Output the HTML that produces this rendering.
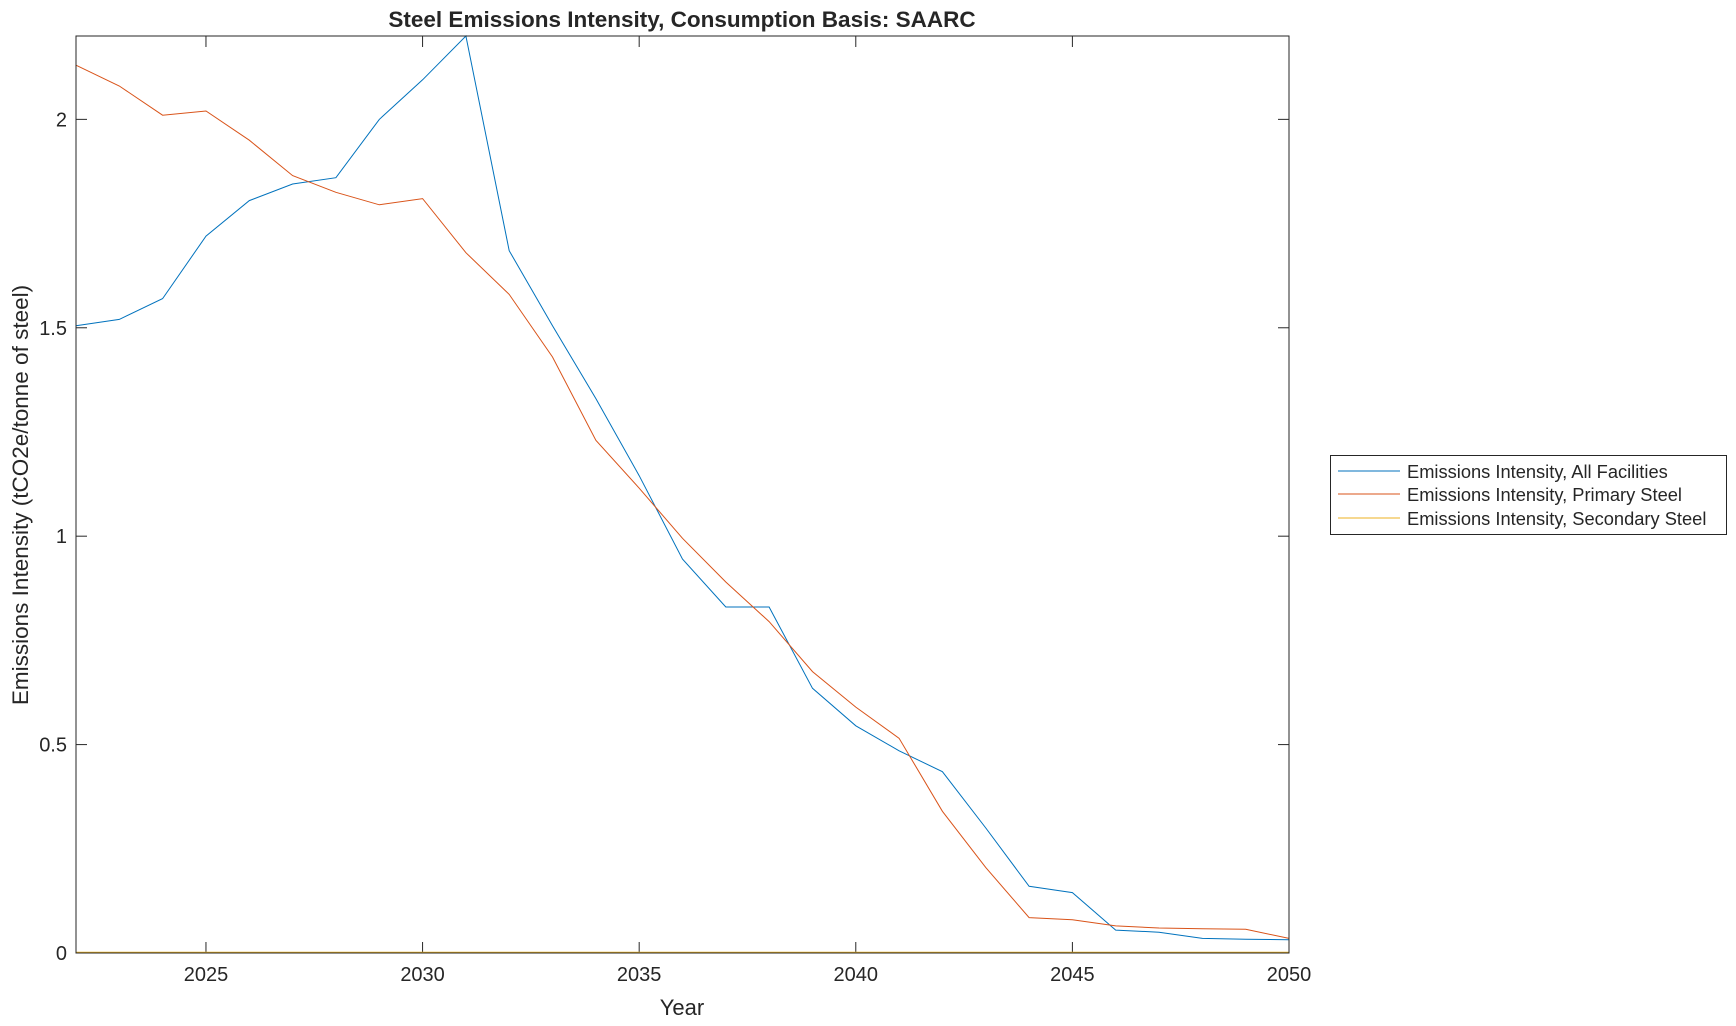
<!DOCTYPE html>
<html><head><style>
body{margin:0;background:#fff;}
svg text{font-family:"Liberation Sans",sans-serif;fill:#262626;}
</style></head><body>
<svg id="s" width="1736" height="1021" xmlns="http://www.w3.org/2000/svg">
<rect x="0" y="0" width="1736" height="1021" fill="#fff"/>
<text x="682" y="27" font-size="22.5" font-weight="bold" text-anchor="middle" fill="#000">Steel Emissions Intensity, Consumption Basis: SAARC</text>
<g id="g"></g>
<rect x="76" y="36" width="1213" height="917" fill="none" stroke="#262626" stroke-width="1"/>
<text x="682" y="1015" font-size="22" text-anchor="middle">Year</text>
<text transform="translate(28,495) rotate(-90)" font-size="22.5" text-anchor="middle">Emissions Intensity (tCO2e/tonne of steel)</text>
<rect x="1330.5" y="455.5" width="396" height="79" fill="#fff" stroke="#262626" stroke-width="1"/>
<line x1="1338" y1="471" x2="1400" y2="471" stroke="#0072BD"/>
<line x1="1338" y1="494" x2="1400" y2="494" stroke="#D95319"/>
<line x1="1338" y1="518" x2="1400" y2="518" stroke="#EDB120"/>
<text x="1407" y="478" font-size="18.3">Emissions Intensity, All Facilities</text>
<text x="1407" y="501" font-size="18.3">Emissions Intensity, Primary Steel</text>
<text x="1407" y="525" font-size="18.3">Emissions Intensity, Secondary Steel</text>
</svg>
<script>
var L=76,R=1289,B=953,T=36;
function X(y){return L+(y-2022)*(R-L)/28;}
function Y(v){return B-v*(B-T)/2.2;}
var g=document.getElementById('g'),h='';
for(var y=2025;y<=2050;y+=5){var x=X(y);h+='<line x1="'+x+'" y1="'+B+'" x2="'+x+'" y2="'+(B-11)+'" stroke="#262626"/><line x1="'+x+'" y1="'+T+'" x2="'+x+'" y2="'+(T+11)+'" stroke="#262626"/><text x="'+x+'" y="'+(B+28)+'" font-size="20" text-anchor="middle">'+y+'</text>';}
[0,0.5,1,1.5,2].forEach(function(v){var yy=Y(v);h+='<line x1="'+L+'" y1="'+yy+'" x2="'+(L+11)+'" y2="'+yy+'" stroke="#262626"/><line x1="'+R+'" y1="'+yy+'" x2="'+(R-11)+'" y2="'+yy+'" stroke="#262626"/><text x="'+(L-9)+'" y="'+(yy+7)+'" font-size="20" text-anchor="end">'+v+'</text>';});
var blue=[1.505,1.52,1.57,1.72,1.805,1.845,1.86,2.0,2.095,2.2,1.685,1.505,1.33,1.145,0.945,0.83,0.83,0.635,0.545,0.485,0.435,0.3,0.16,0.145,0.055,0.05,0.035,0.033,0.032];
var org=[2.13,2.08,2.01,2.02,1.95,1.865,1.825,1.795,1.81,1.68,1.58,1.43,1.23,1.115,0.995,0.89,0.795,0.675,0.59,0.515,0.34,0.205,0.085,0.08,0.065,0.06,0.058,0.057,0.035];
function pl(a,c){return '<polyline fill="none" stroke="'+c+'" stroke-width="1" points="'+a.map(function(v,i){return X(2022+i).toFixed(1)+','+Y(v).toFixed(1);}).join(' ')+'"/>';}
h+=pl(blue,'#0072BD')+pl(org,'#D95319')+'<line x1="'+L+'" y1="'+(B-0.5)+'" x2="'+R+'" y2="'+(B-0.5)+'" stroke="#EDB120" stroke-width="1.5"/>';
g.innerHTML=h;
</script>
</body></html>
